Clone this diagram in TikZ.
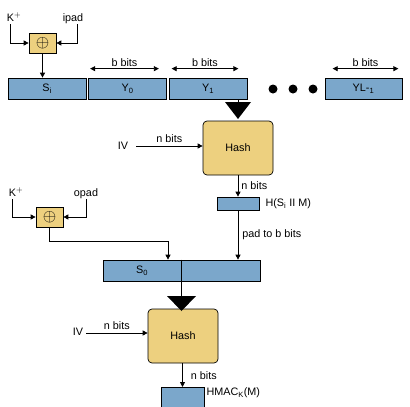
\documentclass[tikz,border=0pt]{standalone}
\usepackage{fontspec}
\setmainfont{Liberation Sans}
\usetikzlibrary{arrows.meta,calc}
\definecolor{blk}{HTML}{7BA7CB}
\definecolor{yel}{HTML}{EDD07F}
\newcommand{\xorsym}{\fontsize{17}{17}\selectfont$\oplus$}
\begin{document}
\begin{tikzpicture}[x=1pt,y=-1pt,
  every node/.style={font=\fontsize{10.8}{12}\selectfont, inner sep=0pt},
  block/.style={draw, line width=0.7pt, fill=blk, minimum height=21pt},
  xorbox/.style={draw, line width=0.7pt, fill=yel, minimum width=27pt, minimum height=20pt},
  hashbox/.style={draw, line width=0.7pt, fill=yel, rounded corners=4pt, minimum width=70pt, minimum height=54pt},
  dot/.style={circle, fill=black, minimum size=9pt},
  arr/.style={line width=0.8pt, -{Triangle[length=5pt,width=5pt]}},
  darr/.style={line width=0.8pt, {Triangle[length=5pt,width=5pt]}-{Triangle[length=5pt,width=5pt]}},
  ln/.style={line width=0.8pt}]
\useasboundingbox (0,0) rectangle (410,407);
% top XOR
\node[xorbox] (xor1) at (42.5,43) {\xorsym};
\node[anchor=base] (kp1) at (14,21) {K$^+$};
\node[anchor=base] (ipad) at (73,21) {ipad};
\coordinate (kp1s) at (10,24);
\coordinate (ipads) at (77,24);
\draw[arr] (kp1s) |- (xor1.west);
\draw[arr] (ipads) |- (xor1.east);
% block row
\node[block, minimum width=78pt] (si) at (47,88.5) {S\textsubscript{i}};
\node[block, minimum width=78pt] (y0) at (127.5,88.5) {Y\textsubscript{0}};
\node[block, minimum width=78pt] (y1) at (208,88.5) {Y\textsubscript{1}};
\node[block, minimum width=77pt] (yl) at (363.5,88.5) {YL-\textsubscript{1}};
\node[dot] (d1) at (273,89) {};
\node[dot] (d2) at (293,89) {};
\node[dot] (d3) at (313,89) {};
\draw[arr] (xor1.south) -- (xor1.south |- si.north);
\draw[darr] ($(y0.north west)+(2,-9)$) -- ($(y0.north east)+(-8,-9)$) node[midway, above=2pt] {b bits};
\draw[darr] ($(y1.north west)+(3,-9)$) -- ($(y1.north east)+(-9,-9)$) node[midway, above=2pt] {b bits};
\draw[darr] ($(yl.north west)+(8,-9)$) -- ($(yl.north east)+(-4,-9)$) node[midway, above=2pt] {b bits};
% first hash
\node[hashbox] (hash1) at (238,148) {Hash};
\coordinate (t1) at (238,103);
\draw[ln] (y1.south -| t1) -- (t1);
\fill (225,102) -- (251,102) -- (238,119) -- cycle;
\node (iv1) at (123,146) {IV};
\coordinate (ivs1) at (136,146);
\draw[arr] (ivs1) -- (ivs1 -| hash1.west) node[midway, above=3pt] {n bits};
\node[block, minimum width=42pt, minimum height=13pt] (hb) at (238,203.5) {};
\node[anchor=west] (hlbl) at (hb.east) {\hspace{6pt}H(S\textsubscript{i} II M)};
\draw[arr] (hash1.south) -- (hb.north) node[midway, right=3pt] {n bits};
% second XOR
\node[xorbox] (xor2) at (49.5,217) {\xorsym};
\node[anchor=base] (kp2) at (16,196) {K$^+$};
\node[anchor=base] (opad) at (86,196) {opad};
\coordinate (kp2s) at (12,199);
\coordinate (opads) at (86,199);
\draw[arr] (kp2s) |- (xor2.west);
\draw[arr] (opads) |- (xor2.east);
% S0 bar
\node[block, minimum width=157pt] (s0) at (181.5,270.5) {};
\node (s0l) at (142,271) {S\textsubscript{0}};
\coordinate (div) at (181,0);
\draw[line width=0.7pt] (s0.north -| div) -- (s0.south -| div);
\coordinate (j2) at (168,241);
\draw[arr] (xor2.south) |- (j2) -- (j2 |- s0.north);
\draw[arr] (hb.south) -- (hb.south |- s0.north) node[midway, right=4pt] {pad to b bits};
% second hash
\node[hashbox] (hash2) at (183,336) {Hash};
\coordinate (t2) at (181,297);
\draw[ln] (s0.south -| div) -- (t2);
\fill (167,296) -- (196,296) -- (181.5,311) -- cycle;
\node (iv2) at (78,332) {IV};
\coordinate (ivs2) at (86,333);
\draw[arr] (ivs2) -- (ivs2 -| hash2.west) node[midway, above=3pt] {n bits};
\node[block, minimum width=43pt, minimum height=22pt, anchor=north] (hmac) at (182.5,387) {};
\node[anchor=west] (hmlbl) at ($(hmac.north east)+(0,6)$) {\hspace{2pt}HMAC\textsubscript{K}(M)};
\draw[arr] (hash2.south -| hmac.north) -- (hmac.north) node[midway, right=8pt] {n bits};
\end{tikzpicture}
\end{document}
